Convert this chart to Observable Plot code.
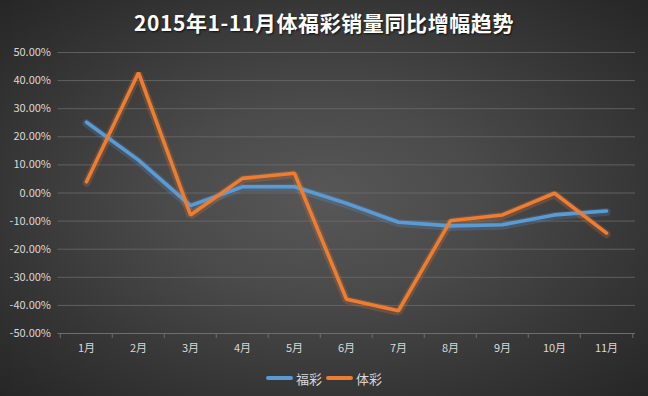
<!DOCTYPE html>
<html>
<head>
<meta charset="utf-8">
<script src="https://cdn.jsdelivr.net/npm/d3@7"></script>
<script src="https://cdn.jsdelivr.net/npm/@observablehq/plot@0.6"></script>
<style>
  html, body { margin: 0; padding: 0; }
  body { width: 648px; height: 396px; overflow: hidden; }
  #wrap {
    width: 648px; height: 396px; position: relative;
    background: radial-gradient(ellipse farthest-corner at 50% 50%, #575757 0%, #4a4a4a 35%, #363636 70%, #262626 100%);
    font-family: "Noto Sans CJK SC", "Noto Sans", sans-serif;
  }
  #title {
    height: 44px; line-height: 44px; text-align: center;
    color: #ffffff; font-size: 21px; font-weight: bold; letter-spacing: 0.6px;
    text-shadow: 1px 1px 2px rgba(0,0,0,0.7);
  }
  #legend {
    height: 34px; display: flex; justify-content: center; align-items: center;
    color: #d9d9d9; font-size: 13px; gap: 4px; padding-bottom: 2px; box-sizing: border-box;
  }
  .sw { display: inline-block; width: 27px; height: 3.5px; border-radius: 2px; margin-right: 3px; }
  svg { display: block; background: transparent; }
</style>
</head>
<body>
<div id="wrap">
  <div id="title">2015年1-11月体福彩销量同比增幅趋势</div>
  <div id="chart"></div>
  <div id="legend"></div>
</div>
<script>
const months = ["1月","2月","3月","4月","5月","6月","7月","8月","9月","10月","11月"];
const fucai = [25.2, 11.7, -4.5, 2.2, 2.2, -3.7, -10.4, -11.7, -11.3, -7.8, -6.4];
const ticai = [4.0, 42.8, -7.8, 5.2, 7.0, -37.8, -41.9, -9.9, -7.8, -0.1, -14.3];
const yTicks = [-50, -40, -30, -20, -10, 0, 10, 20, 30, 40, 50];
const seriesNames = ["福彩", "体彩"];
const seriesColors = ["#5b9bd5", "#ed7d31"];

const data = [];
months.forEach((m, i) => {
  data.push({month: m, series: seriesNames[0], value: fucai[i]});
  data.push({month: m, series: seriesNames[1], value: ticai[i]});
});

const W = 648, H = 318;
const mL = 57.5, mR = 13, mT = 8, mB = 29;
const bw = (W - mL - mR) / months.length;

const chart = Plot.plot({
  width: W, height: H,
  marginLeft: mL, marginRight: mR, marginTop: mT, marginBottom: mB,
  style: {background: "transparent", fontFamily: "'Noto Sans CJK SC', 'Noto Sans', sans-serif", fontSize: "11px", color: "#d9d9d9"},
  x: {type: "point", domain: months, padding: 0.5, label: null},
  y: {domain: [-50, 50], label: null},
  color: {domain: seriesNames, range: seriesColors},
  marks: [
    Plot.ruleY(yTicks.slice(1), {stroke: "#6e6e6e", strokeWidth: 1, strokeOpacity: 0.75}),
    Plot.ruleY([-50], {stroke: "#6e6e6e", strokeWidth: 1}),
    Plot.ruleX(months, {x: d => d, dx: -bw / 2, y1: -50, y2: -51.8, stroke: "#6e6e6e"}),
    Plot.ruleX(months.slice(-1), {x: d => d, dx: bw / 2, y1: -50, y2: -51.8, stroke: "#6e6e6e"}),
    Plot.axisY({ticks: yTicks, tickSize: 0, tickPadding: 7, tickFormat: d => d.toFixed(2) + "%", fill: "#d9d9d9", fontSize: 11}),
    Plot.axisX({tickSize: 0, tickPadding: 11, fill: "#d9d9d9", fontSize: 11}),
    Plot.line(data, {x: "month", y: "value", z: "series", stroke: "series", strokeWidth: 8, strokeOpacity: 0.22, strokeLinejoin: "miter", dy: 1}),
    Plot.line(data, {x: "month", y: "value", z: "series", stroke: "series", strokeWidth: 3.6, strokeLinejoin: "miter", strokeLinecap: "round"})
  ]
});
document.getElementById("chart").appendChild(chart);

const legend = document.getElementById("legend");
seriesNames.forEach((n, i) => {
  const item = document.createElement("span");
  item.style.display = "inline-flex";
  item.style.alignItems = "center";
  const sw = document.createElement("span");
  sw.className = "sw";
  sw.style.background = seriesColors[i];
  item.appendChild(sw);
  item.appendChild(document.createTextNode(n));
  legend.appendChild(item);
});
</script>
</body>
</html>
